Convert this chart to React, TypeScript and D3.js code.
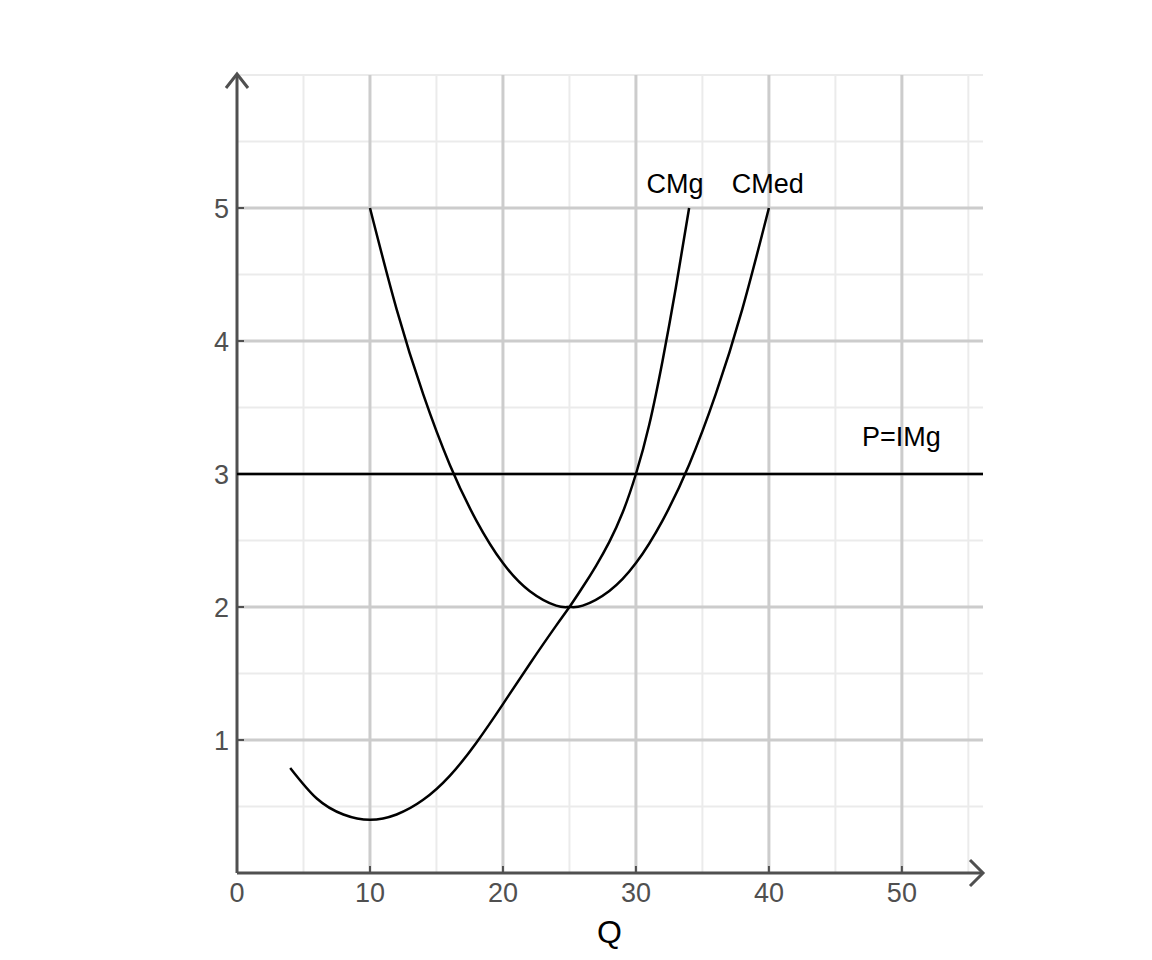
import { useEffect, useRef } from "react";
import * as d3 from "d3";

// Costo marginal (CMg) y costo medio (CMed)
const cmgQ = [4, 6, 8, 10, 12, 14, 16, 18, 20, 22, 24, 25, 26, 27, 28, 29, 30, 31, 32, 33, 34];
const cmgV = [0.79, 0.56, 0.44, 0.4, 0.44, 0.55, 0.73, 0.98, 1.27, 1.57, 1.86, 2.0, 2.15, 2.31, 2.49, 2.71, 3.0, 3.37, 3.85, 4.4, 5.0];

const cmedQ = [10, 12, 14, 16, 18, 20, 22, 24, 25, 26, 28, 30, 32, 34, 36, 38, 40];
const cmedV = [5, 4.24, 3.6, 3.07, 2.65, 2.33, 2.12, 2.01, 2.0, 2.01, 2.12, 2.33, 2.65, 3.07, 3.6, 4.24, 5];

const price = 3; // P = IMg

const xMajor = [0, 10, 20, 30, 40, 50];
const xMinor = [5, 15, 25, 35, 45, 55];
const yMajor = [1, 2, 3, 4, 5];
const yMinor = [0.5, 1.5, 2.5, 3.5, 4.5, 5.5, 6];

const W = 1152;
const H = 960;
const FONT = "'Liberation Sans', Arial, sans-serif";

export default function App() {
  const svgRef = useRef<SVGSVGElement>(null);

  useEffect(() => {
    const el = svgRef.current;
    if (!el) return;
    d3.select(el).selectAll("*").remove();
    const svg = d3.select(el);

    const x = d3.scaleLinear().domain([0, 56.1]).range([237, 983]);
    const y = d3.scaleLinear().domain([0, 6]).range([873, 75]);
    const [x0, x1] = x.range();
    const [y0, y1] = y.range();

    // grid
    const grid = svg.append("g");
    grid
      .selectAll("line.vmin")
      .data(xMinor)
      .join("line")
      .attr("x1", (d) => x(d))
      .attr("x2", (d) => x(d))
      .attr("y1", y0)
      .attr("y2", y1)
      .attr("stroke", "#ebebeb")
      .attr("stroke-width", 2);
    grid
      .selectAll("line.hmin")
      .data(yMinor)
      .join("line")
      .attr("x1", x0)
      .attr("x2", x1)
      .attr("y1", (d) => y(d))
      .attr("y2", (d) => y(d))
      .attr("stroke", "#ebebeb")
      .attr("stroke-width", 2);
    grid
      .selectAll("line.vmaj")
      .data(xMajor.filter((d) => d > 0))
      .join("line")
      .attr("x1", (d) => x(d))
      .attr("x2", (d) => x(d))
      .attr("y1", y0)
      .attr("y2", y1)
      .attr("stroke", "#cccccc")
      .attr("stroke-width", 3);
    grid
      .selectAll("line.hmaj")
      .data(yMajor)
      .join("line")
      .attr("x1", x0)
      .attr("x2", x1)
      .attr("y1", (d) => y(d))
      .attr("y2", (d) => y(d))
      .attr("stroke", "#cccccc")
      .attr("stroke-width", 3);

    // axes with open arrowheads
    const axisColor = "#505050";
    const ax = svg.append("g").attr("stroke", axisColor).attr("stroke-width", 3).attr("fill", "none");
    ax.append("line").attr("x1", x0).attr("x2", x1).attr("y1", y0).attr("y2", y0);
    ax.append("line").attr("x1", x0).attr("x2", x0).attr("y1", y0).attr("y2", y1 - 1);
    ax.append("path").attr("d", `M${x1 - 13},${y0 - 13}L${x1},${y0}L${x1 - 13},${y0 + 13}`);
    ax.append("path").attr("d", `M${x0 - 11},${y1 + 13}L${x0},${y1 - 1}L${x0 + 11},${y1 + 13}`);

    // tick marks
    ax.selectAll("line.xt")
      .data(xMajor.filter((d) => d > 0))
      .join("line")
      .attr("x1", (d) => x(d))
      .attr("x2", (d) => x(d))
      .attr("y1", y0)
      .attr("y2", y0 - 7)
      .attr("stroke-width", 2);
    ax.selectAll("line.yt")
      .data(yMajor)
      .join("line")
      .attr("x1", x0)
      .attr("x2", x0 + 7)
      .attr("y1", (d) => y(d))
      .attr("y2", (d) => y(d))
      .attr("stroke-width", 2);

    // tick labels
    svg
      .append("g")
      .selectAll("text")
      .data(xMajor)
      .join("text")
      .attr("x", (d) => x(d))
      .attr("y", 902)
      .attr("text-anchor", "middle")
      .attr("font-family", FONT)
      .attr("font-size", 27)
      .attr("fill", "#505050")
      .text((d) => String(d));
    svg
      .append("g")
      .selectAll("text")
      .data(yMajor)
      .join("text")
      .attr("x", 229)
      .attr("y", (d) => y(d) + 10)
      .attr("text-anchor", "end")
      .attr("font-family", FONT)
      .attr("font-size", 27)
      .attr("fill", "#505050")
      .text((d) => String(d));

    // Q axis title
    svg
      .append("text")
      .attr("x", x(28))
      .attr("y", 943)
      .attr("text-anchor", "middle")
      .attr("font-family", FONT)
      .attr("font-size", 32)
      .attr("fill", "#000")
      .text("Q");

    // P = IMg
    svg
      .append("line")
      .attr("x1", x0)
      .attr("x2", x1)
      .attr("y1", y(price))
      .attr("y2", y(price))
      .attr("stroke", "#000")
      .attr("stroke-width", 2.5);

    const line = d3
      .line<[number, number]>()
      .x((d) => x(d[0]))
      .y((d) => y(d[1]))
      .curve(d3.curveNatural);

    const cmg: [number, number][] = cmgQ.map((q, i) => [q, cmgV[i]]);
    const cmed: [number, number][] = cmedQ.map((q, i) => [q, cmedV[i]]);

    [cmg, cmed].forEach((pts) => {
      svg
        .append("path")
        .datum(pts)
        .attr("d", line)
        .attr("fill", "none")
        .attr("stroke", "#000")
        .attr("stroke-width", 2.5);
    });

    // curve labels
    const labels: [string, number, number][] = [
      ["CMg", x(30.8), 193],
      ["CMed", x(37.2), 193],
      ["P=IMg", x(47.0), 446],
    ];
    svg
      .append("g")
      .selectAll("text")
      .data(labels)
      .join("text")
      .attr("x", (d) => d[1])
      .attr("y", (d) => d[2])
      .attr("font-family", FONT)
      .attr("font-size", 27)
      .attr("fill", "#000")
      .text((d) => d[0]);
  }, []);

  return (
    <svg
      ref={svgRef}
      width={W}
      height={H}
      viewBox={`0 0 ${W} ${H}`}
      style={{ position: "absolute", left: 0, top: 0, background: "#fff" }}
    />
  );
}
